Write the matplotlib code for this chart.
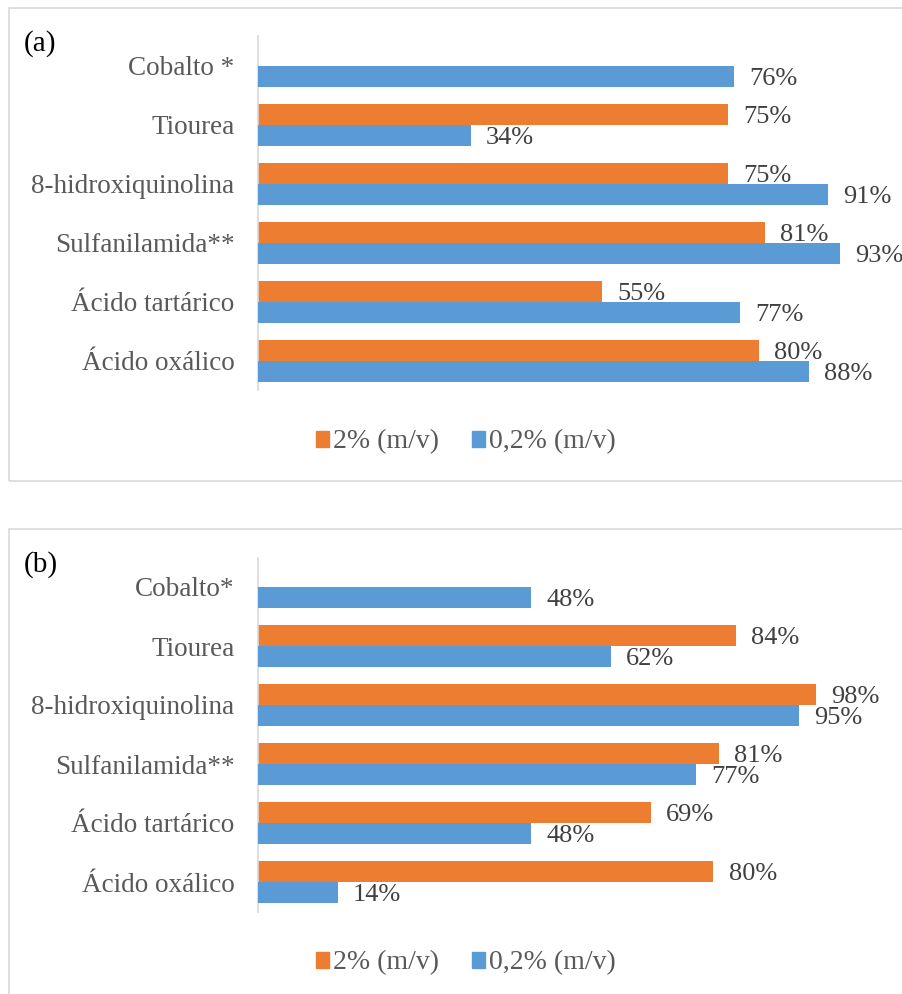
import numpy as np
import matplotlib
matplotlib.use("Agg")
import matplotlib.pyplot as plt
from matplotlib.patches import Rectangle, Patch

plt.rcParams['font.family'] = ['Liberation Serif', 'DejaVu Serif']

# ---- data ----
categories_a = ["Cobalto *", "Tiourea", "8-hidroxiquinolina", "Sulfanilamida**",
                "Ácido tartárico", "Ácido oxálico"]
categories_b = ["Cobalto*", "Tiourea", "8-hidroxiquinolina", "Sulfanilamida**",
                "Ácido tartárico", "Ácido oxálico"]
a_2pct = [np.nan, 75, 75, 81, 55, 80]
a_02pct = [76, 34, 91, 93, 77, 88]
b_2pct = [np.nan, 84, 98, 81, 69, 80]
b_02pct = [48, 62, 95, 77, 48, 14]
series_names = ["2% (m/v)", "0,2% (m/v)"]
panel_labels = ["(a)", "(b)"]

ORANGE = "#ED7D31"
BLUE = "#5B9BD5"
GRID = "#D9D9D9"
TXT = "#595959"
VAL = "#404040"

W, H = 902, 994
fig = plt.figure(figsize=(W / 100, H / 100), dpi=100)


def fx(px):
    return px / W


def fy(py):
    return 1 - py / H


def panel(top_off, cats, v2, v02, xmax, label):
    # outer box
    fig.add_artist(Rectangle((fx(9), fy(top_off + 473)), fx(930 - 9), (473) / H,
                             transform=fig.transFigure, fill=False,
                             edgecolor=GRID, lw=1.2))
    ax = fig.add_axes([fx(258), fy(top_off + 382.5), fx(884 - 258), 354 / H])
    pos = np.arange(len(cats))
    h = 0.36
    for i, (o, b) in enumerate(zip(v2, v02)):
        if not np.isnan(o):
            ax.barh(pos[i] - h / 2, o, height=h, color=ORANGE, zorder=2)
            ax.annotate(f"{o:.0f}%", (o, pos[i] - h / 2), xytext=(11, 0),
                        textcoords="offset points", va="center_baseline", ha="left",
                        fontsize=19, color=VAL, zorder=2.5)
        ax.barh(pos[i] + h / 2, b, height=h, color=BLUE, zorder=3)
        ax.annotate(f"{b:.0f}%", (b, pos[i] + h / 2), xytext=(11, 0),
                    textcoords="offset points", va="center_baseline", ha="left",
                    fontsize=19, color=VAL, zorder=4)
    ax.set_ylim(len(cats) - 0.5, -0.5)
    ax.set_xlim(0, xmax)
    ax.set_yticks(pos)
    ax.set_yticklabels(cats, fontsize=19.5, color=TXT)
    for t in ax.get_yticklabels():
        t.set_va("center_baseline")
    ax.tick_params(axis='y', length=0, pad=17)
    ax.set_xticks([])
    for s in ["top", "right", "bottom"]:
        ax.spines[s].set_visible(False)
    ax.spines["left"].set_color(GRID)
    ax.spines["left"].set_linewidth(1.2)
    ax.patch.set_alpha(0)
    fig.text(fx(24), fy(top_off + 36), label, fontsize=21, color="black",
             ha="left", va="center")
    handles = [Patch(color=ORANGE, label=series_names[0]),
               Patch(color=BLUE, label=series_names[1])]
    fig.legend(handles=handles, loc="center", ncol=2, frameon=False,
               bbox_to_anchor=(fx(466), fy(top_off + 434)), fontsize=20,
               handlelength=0.45, handleheight=0.5, handletextpad=0.15,
               columnspacing=1.2, labelcolor=TXT)
    return ax


panel(8, categories_a, a_2pct, a_02pct, 100, panel_labels[0])
panel(529, categories_b, b_2pct, b_02pct, 110, panel_labels[1])

fig.savefig("out.png", dpi=100)
